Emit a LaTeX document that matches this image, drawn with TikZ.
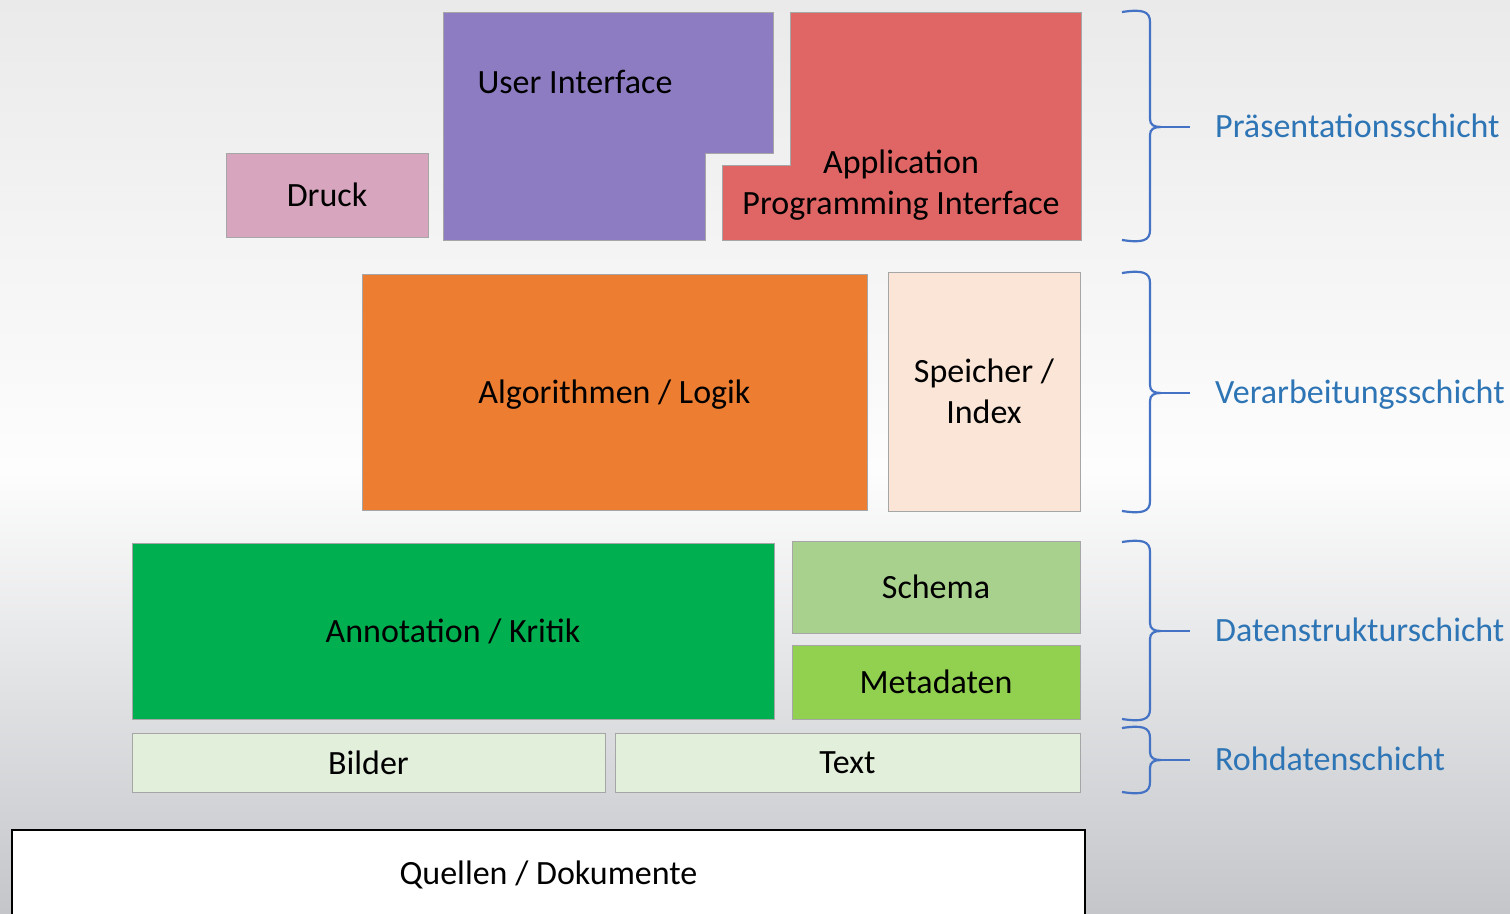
\documentclass[tikz,border=0pt]{standalone}
\usepackage{fontspec}
\setmainfont{Carlito}
\usetikzlibrary{positioning}
\definecolor{druckpink}{HTML}{D8A5BF}
\definecolor{uipurple}{HTML}{8E7CC3}
\definecolor{apired}{HTML}{E06666}
\definecolor{algoorange}{HTML}{ED7D31}
\definecolor{speicherbeige}{HTML}{FBE5D6}
\definecolor{annogreen}{HTML}{00B050}
\definecolor{schemagreen}{HTML}{A9D18E}
\definecolor{metagreen}{HTML}{92D050}
\definecolor{rohgreen}{HTML}{E2EFDA}
\definecolor{braceblue}{HTML}{4472C4}
\definecolor{labelblue}{HTML}{2E75B6}
\definecolor{bgtop}{HTML}{EAEAEA}
\definecolor{bgmid}{HTML}{FDFDFD}
\definecolor{bgbot}{HTML}{C4C6CA}
\tikzset{
  box/.style={draw=black!35, line width=1pt, align=center, inner sep=0pt, font=\fontsize{34}{41}\selectfont},
  layerbrace/.style={draw=braceblue, line width=2.2pt},
  layerlabel/.style={text=labelblue, anchor=base west, inner sep=0pt, font=\fontsize{34}{40}\selectfont}
}
% top, tip, bottom, node name, label
\newcommand{\layerbrace}[5]{%
  \draw[layerbrace] (1122,#1) .. controls (1142,#1-3) and (1150,#1-1) .. (1150,#1+10) -- (1150,#2-8) .. controls (1150,#2-2) and (1154,#2) .. (1161,#2) .. controls (1154,#2) and (1150,#2+2) .. (1150,#2+8) -- (1150,#3-10) .. controls (1150,#3+1) and (1142,#3+3) .. (1122,#3);
  \coordinate (#4tip) at (1161,#2);
  \node[layerlabel] (#4) at (1215,#2+10) {#5};
  \draw[layerbrace] (#4tip) -- (1190,#2);
}
\begin{document}
\begin{tikzpicture}[x=1pt, y=-1pt]
\useasboundingbox (0,0) rectangle (1510,913);
\shade[top color=bgtop, bottom color=bgmid] (0,0) rectangle (1510,470);
\shade[top color=bgmid, bottom color=bgbot] (0,470) rectangle (1510,913);

% Praesentationsschicht
\node[box, fill=druckpink, minimum width=202pt, minimum height=84pt] (druck) at (327,195) {Druck};
\draw[box, fill=uipurple] (443,12) -- (773,12) -- (773,153) -- (705,153) -- (705,240) -- (443,240) -- cycle;
\node[box, draw=none] (ui) at (575,82) {User Interface};
\draw[box, fill=apired] (790,12) -- (1081,12) -- (1081,240) -- (722,240) -- (722,165) -- (790,165) -- cycle;
\node[box, draw=none] (api) at (901,185) {Application\\Programming Interface};

% Verarbeitungsschicht
\node[box, fill=algoorange, minimum width=505pt, minimum height=236pt] (algo) at (614.5,392) {};
\node (algotext) at (algo.center) [box, draw=none, yshift=-3pt] {Algorithmen / Logik};
\node[box, fill=speicherbeige, minimum width=192pt, minimum height=239pt] (speicher) at (984,391.5) {Speicher /\\Index};

% Datenstrukturschicht
\node[box, fill=annogreen, minimum width=642pt, minimum height=176pt] (anno) at (453,631) {Annotation / Kritik};
\node[box, fill=schemagreen, minimum width=288pt, minimum height=92pt] (schema) at (936,587) {Schema};
\node[box, fill=metagreen, minimum width=288pt, minimum height=74pt] (meta) at (936,682) {Metadaten};

% Rohdatenschicht
\node[box, fill=rohgreen, minimum width=473pt, minimum height=59pt] (bilder) at (368.5,762.5) {Bilder};
\node[box, fill=rohgreen, minimum width=465pt, minimum height=59pt] (text) at (847.5,762.5) {Text};

\node[box, draw=black, line width=2.5pt, fill=white, minimum width=1073pt, minimum height=90pt] (quellen) at (548.5,875) {Quellen / Dokumente};

\layerbrace{12}{127}{240}{praes}{Präsentationsschicht}
\layerbrace{273}{393}{511}{verarb}{Verarbeitungsschicht}
\layerbrace{542}{631}{719}{daten}{Datenstrukturschicht}
\layerbrace{728}{760}{792}{roh}{Rohdatenschicht}
\end{tikzpicture}
\end{document}
